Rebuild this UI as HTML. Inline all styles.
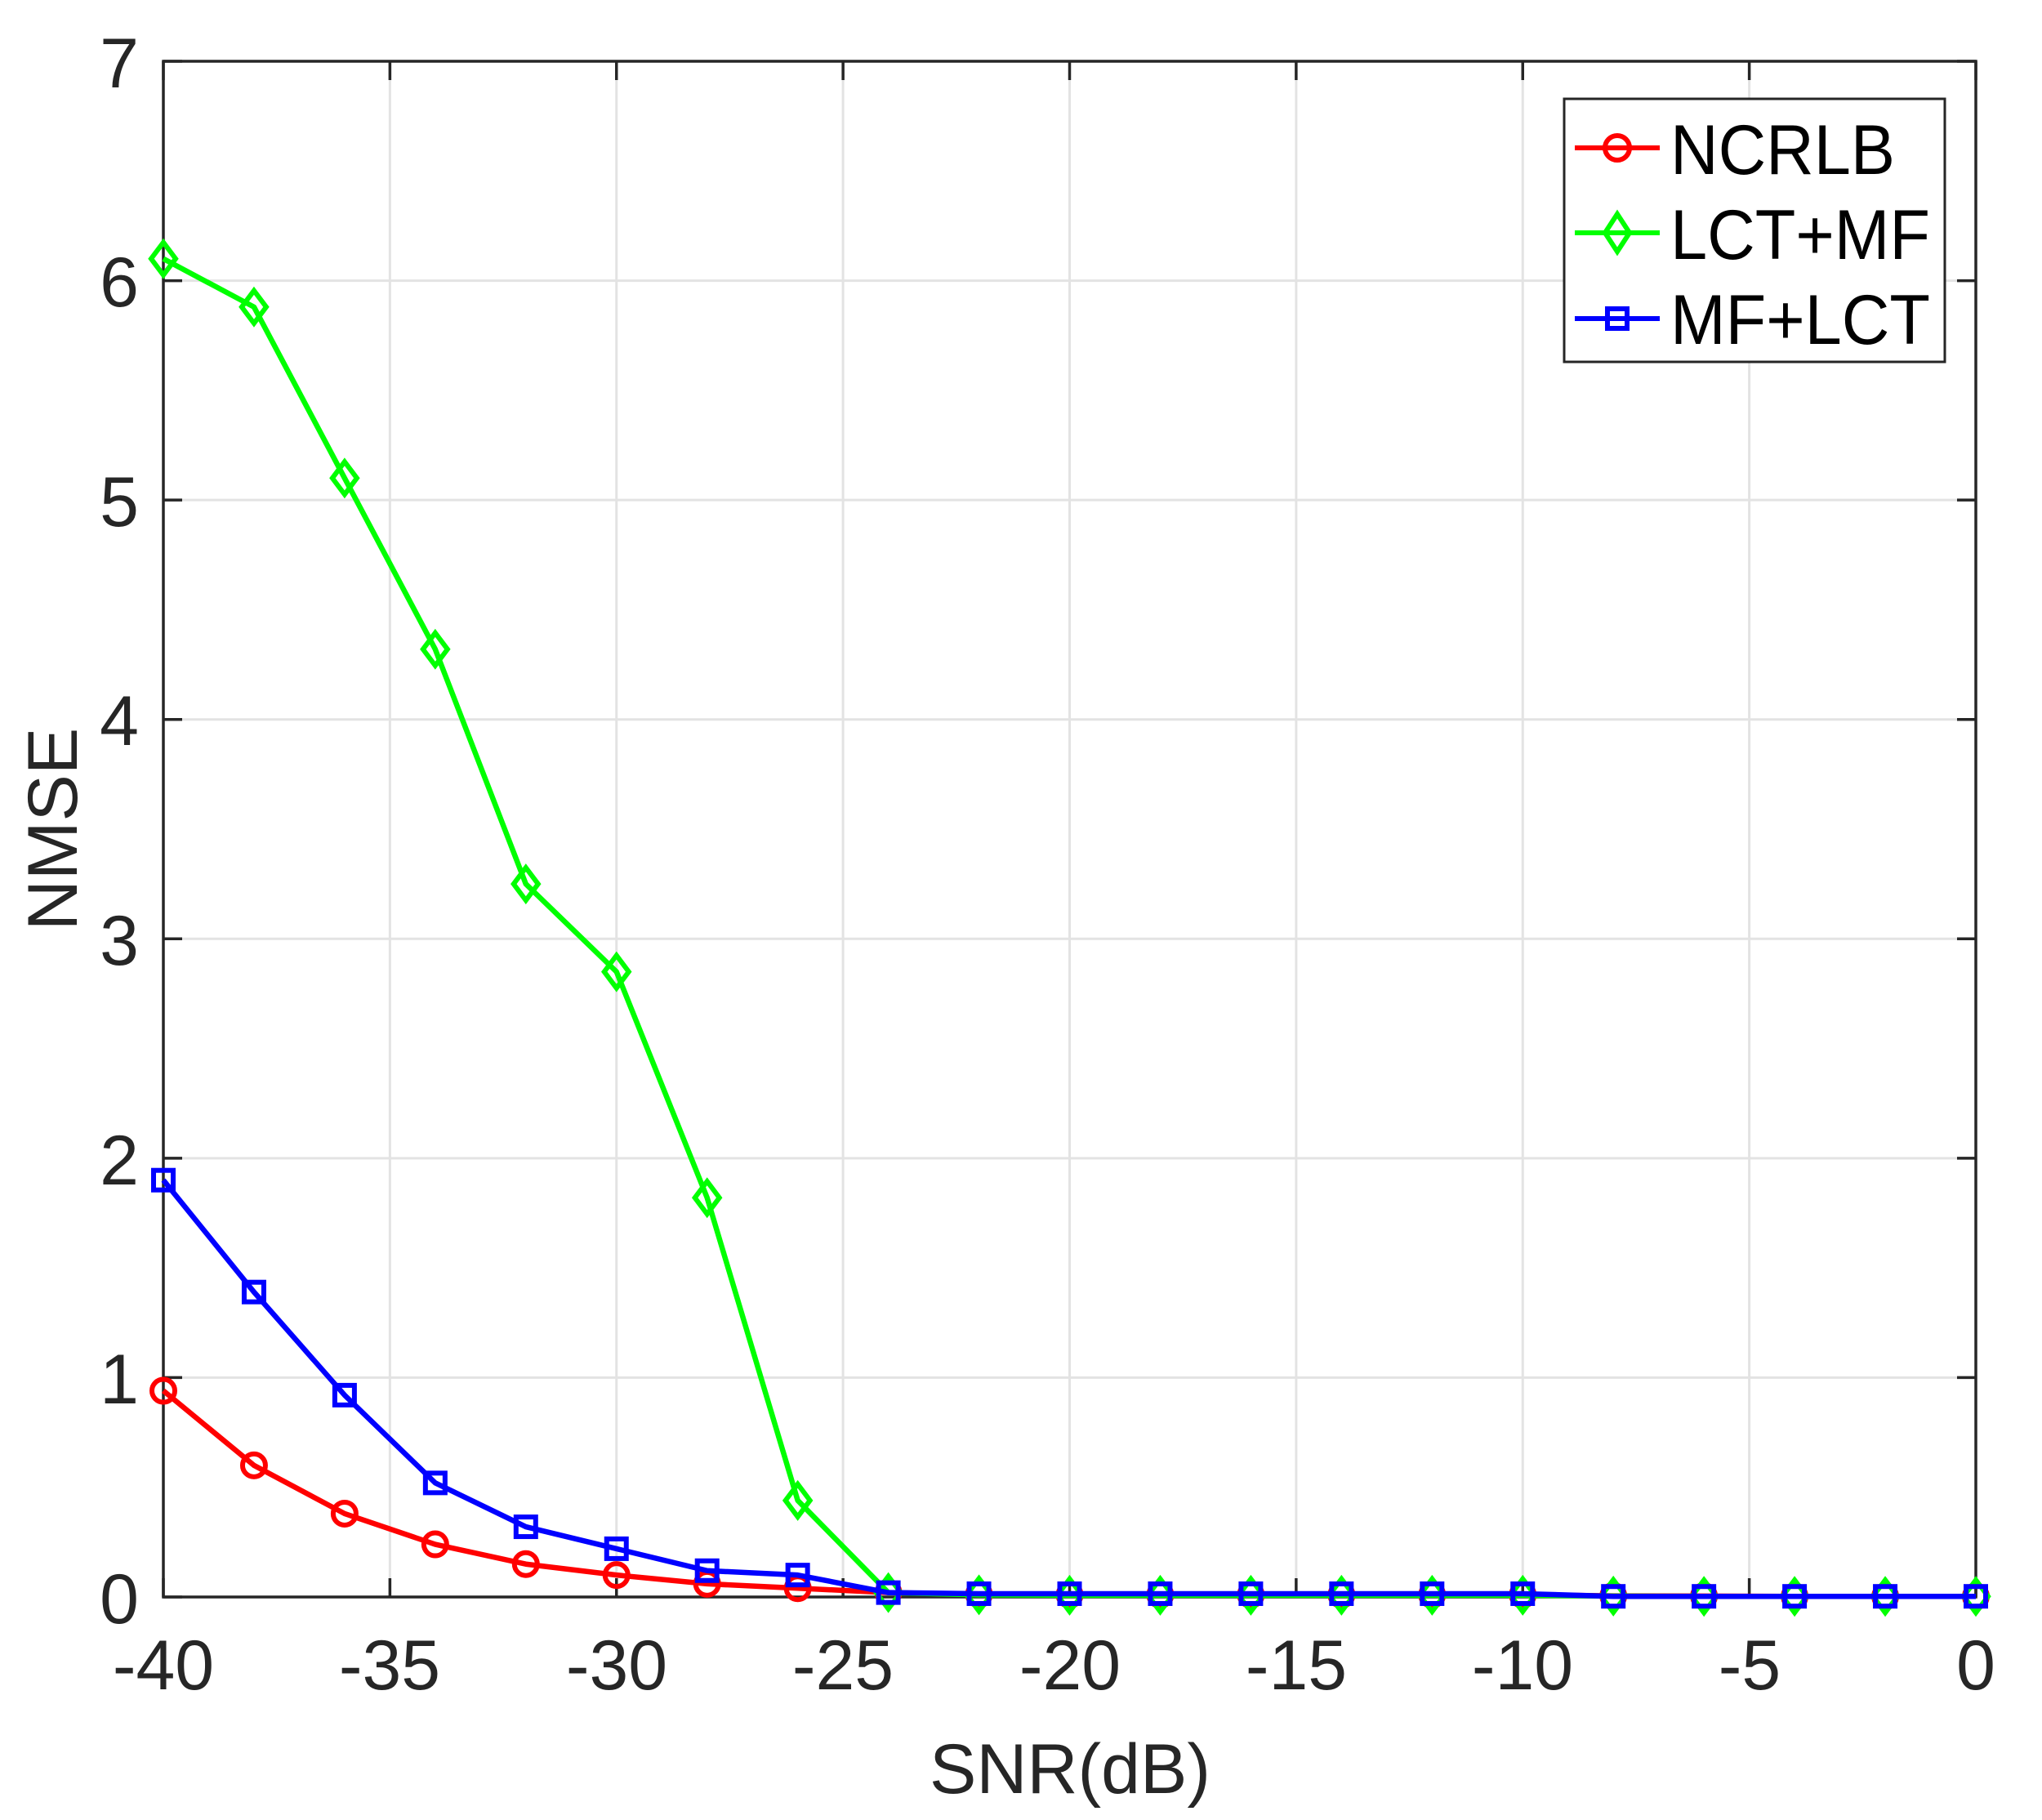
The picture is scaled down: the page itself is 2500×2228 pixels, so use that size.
<!DOCTYPE html>
<html><head><meta charset="utf-8"><style>
html,body{margin:0;padding:0;background:#fff;}
svg{display:block;font-family:"Liberation Sans",Arial,sans-serif;}
</style></head><body>
<svg id="s" width="2500" height="2228" viewBox="0 0 2500 2228" xmlns="http://www.w3.org/2000/svg">
<rect width="2500" height="2228" fill="#fff"/>
<g id="grid" stroke="#e3e3e3" stroke-width="3"></g>
<g id="ticks" stroke="#262626" stroke-width="3.5"></g>
<rect x="200" y="75" width="2219" height="1880" fill="none" stroke="#262626" stroke-width="3.5"/>
<g id="series"></g>
<g font-size="86" fill="#262626">
<text x="170" y="107" text-anchor="end">7</text>
<text x="170" y="375" text-anchor="end">6</text>
<text x="170" y="644" text-anchor="end">5</text>
<text x="170" y="912" text-anchor="end">4</text>
<text x="170" y="1181" text-anchor="end">3</text>
<text x="170" y="1450" text-anchor="end">2</text>
<text x="170" y="1718" text-anchor="end">1</text>
<text x="170" y="1987" text-anchor="end">0</text>
</g>
<g font-size="86" fill="#262626" text-anchor="middle">
<text x="200" y="2068">-40</text>
<text x="477" y="2068">-35</text>
<text x="755" y="2068">-30</text>
<text x="1032" y="2068">-25</text>
<text x="1310" y="2068">-20</text>
<text x="1587" y="2068">-15</text>
<text x="1864" y="2068">-10</text>
<text x="2142" y="2068">-5</text>
<text x="2419" y="2068">0</text>
</g>
<text x="1310" y="2195" font-size="86" fill="#262626" text-anchor="middle">SNR(dB)</text>
<text transform="translate(94,1015) rotate(-90)" font-size="86" fill="#262626" text-anchor="middle">NMSE</text>
<rect x="1915" y="121" width="466" height="322" fill="#fff" stroke="#262626" stroke-width="3"/>
<g stroke-width="6" fill="none">
<line x1="1928" y1="181" x2="2032" y2="181" stroke="#f00"/>
<circle cx="1980" cy="181" r="15" stroke="#f00"/>
<line x1="1928" y1="285" x2="2032" y2="285" stroke="#0f0"/>
<path d="M1980 262 L1995 285 L1980 308 L1965 285 Z" stroke="#0f0"/>
<line x1="1928" y1="390" x2="2032" y2="390" stroke="#00f"/>
<rect x="1968" y="378" width="24" height="24" stroke="#00f"/>
</g>
<g font-size="86" fill="#000">
<text x="2045" y="213" textLength="275" lengthAdjust="spacingAndGlyphs">NCRLB</text>
<text x="2045" y="317" textLength="318" lengthAdjust="spacingAndGlyphs">LCT+MF</text>
<text x="2045" y="421" textLength="318" lengthAdjust="spacingAndGlyphs">MF+LCT</text>
</g>
</svg>
<script>
var NS="http://www.w3.org/2000/svg";
function X(v){return 200+(v+40)*55.475;}
function Y(v){return 1955-v*268.57;}
function el(p,t,a){var e=document.createElementNS(NS,t);for(var k in a)e.setAttribute(k,a[k]);p.appendChild(e);return e;}
var g=document.getElementById('grid'),tk=document.getElementById('ticks'),s=document.getElementById('series');
for(var v=-35;v<0;v+=5){el(g,'line',{x1:X(v),x2:X(v),y1:75,y2:1955});}
for(var v=1;v<7;v++){el(g,'line',{x1:200,x2:2419,y1:Y(v),y2:Y(v)});}
for(var v=-40;v<=0;v+=5){el(tk,'line',{x1:X(v),x2:X(v),y1:1955,y2:1932});el(tk,'line',{x1:X(v),x2:X(v),y1:75,y2:98});}
for(var v=0;v<=7;v++){el(tk,'line',{x1:200,x2:223,y1:Y(v),y2:Y(v)});el(tk,'line',{x1:2419,x2:2396,y1:Y(v),y2:Y(v)});}
var xs=[];for(var v=-40;v<=0;v+=2)xs.push(v);
var red=[0.94,0.6,0.38,0.24,0.15,0.1,0.06,0.04,0.02,0.012,0.01,0.01,0.01,0.01,0.01,0.01,0.005,0.004,0.003,0.003,0.003];
var green=[6.1,5.88,5.1,4.32,3.25,2.85,1.82,0.44,0.02,0.01,0.008,0.008,0.008,0.008,0.008,0.008,0.004,0.003,0.003,0.003,0.003];
var blue=[1.9,1.39,0.92,0.52,0.32,0.22,0.12,0.1,0.02,0.015,0.015,0.015,0.015,0.015,0.015,0.015,0.003,0.003,0.003,0.003,0.003];
function series(d,c,m){
 var pts=xs.map(function(v,i){return X(v)+','+Y(d[i]);}).join(' ');
 el(s,'polyline',{points:pts,fill:'none',stroke:c,'stroke-width':6.5,'stroke-linejoin':'round'});
 xs.forEach(function(v,i){var x=X(v),y=Y(d[i]);
  if(m=='o')el(s,'circle',{cx:x,cy:y,r:14,fill:'none',stroke:c,'stroke-width':6});
  else if(m=='d')el(s,'path',{d:'M'+x+' '+(y-20)+'L'+(x+15)+' '+y+'L'+x+' '+(y+20)+'L'+(x-15)+' '+y+'Z',fill:'none',stroke:c,'stroke-width':6});
  else el(s,'rect',{x:x-12,y:y-12,width:24,height:24,fill:'none',stroke:c,'stroke-width':6});
 });
}
series(red,'#f00','o');series(green,'#0f0','d');series(blue,'#00f','s');
</script>
</body></html>
